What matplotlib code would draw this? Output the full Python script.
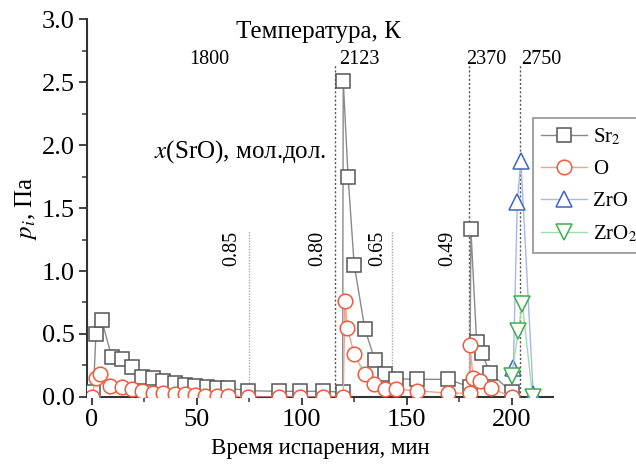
import matplotlib
matplotlib.use("Agg")
import matplotlib.pyplot as plt
from matplotlib.ticker import MultipleLocator

plt.rcParams['font.family'] = ['Liberation Serif', 'DejaVu Serif']
plt.rcParams['mathtext.fontset'] = 'stix'

# Sr2
t_sr2 = [0.8, 2.0, 4.8, 9.5, 14.3, 19, 23.8, 29.3, 34.1, 39.7, 44.4, 49.2, 54.8, 59.5, 65,
         74.6, 89, 99.2, 110.3, 119.5, 119.8, 122.1, 125, 130.1, 134.9, 139.7, 144.9, 154.8,
         169.8, 180.1, 180.6, 183.3, 185.7, 189.8, 200]
p_sr2 = [0.04, 0.5, 0.61, 0.32, 0.30, 0.24, 0.16, 0.15, 0.13, 0.11, 0.095, 0.086, 0.08,
         0.075, 0.07, 0.05, 0.045, 0.045, 0.045, 0.04, 2.51, 1.75, 1.05, 0.54, 0.29, 0.18,
         0.145, 0.14, 0.14, 0.08, 1.33, 0.44, 0.35, 0.19, 0.04]
# O
t_o = [0, 2.0, 4.0, 8.7, 14.3, 19, 23.8, 29.3, 34.1, 39.7, 44.4, 49.2, 54, 59.5, 65, 74.6,
       89, 99.2, 110.3, 119.8, 120.6, 121.7, 125, 130.1, 134.4, 139.7, 144.9, 154.8,
       169.8, 180.1, 180.1, 181.7, 184.9, 190.3, 200]
p_o = [0.0, 0.15, 0.18, 0.09, 0.08, 0.065, 0.05, 0.035, 0.03, 0.025, 0.02, 0.015, 0.01,
       0.01, 0.01, 0.0, 0.0, 0.0, 0.0, 0.0, 0.765, 0.55, 0.34, 0.18, 0.105, 0.066,
       0.06, 0.05, 0.03, 0.03, 0.41, 0.15, 0.13, 0.07, 0.0]
# ZrO
t_zro = [200.8, 202.7, 204.4, 210.3]
p_zro = [0.23, 1.55, 1.87, 0.02]
# ZrO2
t_zro2 = [200.0, 203.1, 205.1, 210.0]
p_zro2 = [0.17, 0.52, 0.74, 0.0]

# temperature markers
temp_t = [115.9, 179.7, 204.0]
temp_labels = ['1800', '2123', '2370', '2750']
# composition markers
comp_t = [74.7, 143.0]
comp_labels = ['0.85', '0.80', '0.65', '0.49']

fig = plt.figure(figsize=(6.36, 4.67), dpi=100)
ax = fig.add_axes([0.1368, 0.1499, 0.7327, 0.8094])
ax.set_xlim(-2.24, 219.7)
ax.set_ylim(0, 3.0)

for t in temp_t:
    ax.plot([t, t], [0, 2.64], ls=(0, (1.5, 1.5)), color='#555555', lw=1.0, zorder=1)
for t in comp_t:
    ax.plot([t, t], [0, 1.32], ls=(0, (1, 1)), color='#aaaaaa', lw=1.0, zorder=1)

ax.plot(t_sr2, p_sr2, color='#8a8a8a', lw=1.0, marker='s', ms=9.5, mfc='white',
        mec='#555555', mew=1.1, label='Sr$_2$', zorder=3)
ax.plot(t_o, p_o, color='#f4a090', lw=1.0, marker='o', ms=10.5, mfc='white',
        mec='#f05a3c', mew=1.1, label='O', zorder=4)
ax.plot(t_zro, p_zro, color='#a8b8e8', lw=1.0, marker='^', ms=11, mfc='white',
        mec='#3f63c8', mew=1.1, label='ZrO', zorder=5)
ax.plot(t_zro2, p_zro2, color='#a0dca8', lw=1.0, marker='v', ms=11, mfc='white',
        mec='#3cae4c', mew=1.1, label='ZrO$_2$', zorder=6)

ax.text(107.8, 2.9, 'Температура, К', fontsize=18, ha='center', va='center')
for tx, lab in zip([55.9, 127.5, 188, 214], temp_labels):
    ax.text(tx, 2.68, lab, fontsize=14.5, ha='center', va='center')
ax.text(70.6, 1.95, r'$x$(SrO), мол.дол.', fontsize=18, ha='center', va='center')
for tx, lab in zip([66.8, 107.8, 136.3, 169.7], comp_labels):
    ax.text(tx, 1.18, lab, fontsize=14.5, ha='center', va='center', rotation=90)

ax.set_xlabel('Время испарения, мин', fontsize=16.5, labelpad=5)
ax.set_ylabel(r'$p_i$, Па', fontsize=18, labelpad=2)

ax.spines['top'].set_visible(False)
ax.spines['right'].set_visible(False)
for s in ['left', 'bottom']:
    ax.spines[s].set_linewidth(1.5)
    ax.spines[s].set_color('#333333')
ax.xaxis.set_major_locator(MultipleLocator(50))
ax.xaxis.set_minor_locator(MultipleLocator(25))
ax.yaxis.set_major_locator(MultipleLocator(0.5))
ax.yaxis.set_minor_locator(MultipleLocator(0.25))
ax.tick_params(which='major', direction='out', length=6, width=1.3, labelsize=19,
               color='#333333', pad=3)
ax.tick_params(which='minor', direction='out', length=3.5, width=1.1, color='#333333')
ax.set_xticks([0, 50, 100, 150, 200])
ax.set_yticks([0.0, 0.5, 1.0, 1.5, 2.0, 2.5, 3.0])
ax.set_yticklabels(['0.0', '0.5', '1.0', '1.5', '2.0', '2.5', '3.0'])

leg = ax.legend(loc='upper left', bbox_to_anchor=(0.957, 0.738), fontsize=15,
                frameon=True, fancybox=False, edgecolor='#777777', handlelength=2.2,
                borderpad=0.4, labelspacing=0.6, handletextpad=0.3, borderaxespad=0)
leg.get_frame().set_linewidth(1.2)

fig.savefig('out.png', dpi=100)
